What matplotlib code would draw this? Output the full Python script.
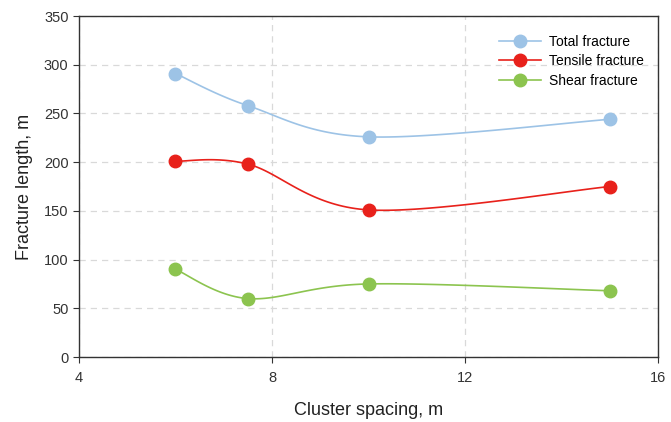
import matplotlib
matplotlib.use("Agg")
import matplotlib.pyplot as plt
import numpy as np

plt.rcParams["font.family"] = ["Liberation Sans", "DejaVu Sans"]

spacing = [6, 7.5, 10, 15]
total = [291, 258, 226, 244]
tensile = [201, 198, 151, 175]
shear = [90, 60, 75, 68]


def smooth(x, y, n=40):
    # Excel-style smoothed line: cubic Bezier with Catmull-Rom control points
    x = np.asarray(x, float)
    y = np.asarray(y, float)
    px = np.concatenate([[x[0]], x, [x[-1]]])
    py = np.concatenate([[y[0]], y, [y[-1]]])
    t = np.linspace(0, 1, n)
    xs, ys = [], []
    for i in range(1, len(px) - 2):
        p0 = np.array([px[i], py[i]])
        p3 = np.array([px[i + 1], py[i + 1]])
        c1 = p0 + (np.array([px[i + 1], py[i + 1]]) - np.array([px[i - 1], py[i - 1]])) / 6
        c2 = p3 - (np.array([px[i + 2], py[i + 2]]) - p0) / 6
        b = ((1 - t) ** 3)[:, None] * p0 + (3 * (1 - t) ** 2 * t)[:, None] * c1 \
            + (3 * (1 - t) * t ** 2)[:, None] * c2 + (t ** 3)[:, None] * p3
        xs.append(b[:, 0])
        ys.append(b[:, 1])
    return np.concatenate(xs), np.concatenate(ys)


fig = plt.figure(figsize=(6.71, 4.22), dpi=100)
ax = fig.add_axes([0.1177, 0.154, 0.863, 0.808])

series = [
    ("Total fracture", total, "#9dc3e6"),
    ("Tensile fracture", tensile, "#e8211b"),
    ("Shear fracture", shear, "#8cc44f"),
]
for label, vals, color in series:
    sx, sy = smooth(spacing, vals)
    ax.plot(sx, sy, color=color, lw=1.2, zorder=3)
    ax.plot(spacing, vals, "o", color=color, ms=9, zorder=4)
    ax.plot([], [], "-o", color=color, lw=1.2, ms=9, label=label)

ax.set_xlim(4, 16)
ax.set_ylim(0, 350)
ax.set_xticks([4, 8, 12, 16])
ax.set_yticks(range(0, 351, 50))
ax.grid(True, ls=(0, (5, 4)), color="#d9d9d9", lw=0.9, zorder=0)
for s in ax.spines.values():
    s.set_color("#333333")
    s.set_linewidth(1.0)
ax.tick_params(axis="both", labelsize=10.5, colors="#333333", length=4, direction="out")
ax.tick_params(axis="x", pad=6)
ax.set_xlabel("Cluster spacing, m", fontsize=13, labelpad=12, color="#222222")
ax.set_ylabel("Fracture length, m", fontsize=13, labelpad=8, color="#222222")
ax.legend(loc="upper right", frameon=False, fontsize=10, handlelength=3.0,
          handletextpad=0.6, bbox_to_anchor=(1.0, 0.985), borderaxespad=0.6,
          labelspacing=0.38)

fig.savefig("out.png", dpi=100)
